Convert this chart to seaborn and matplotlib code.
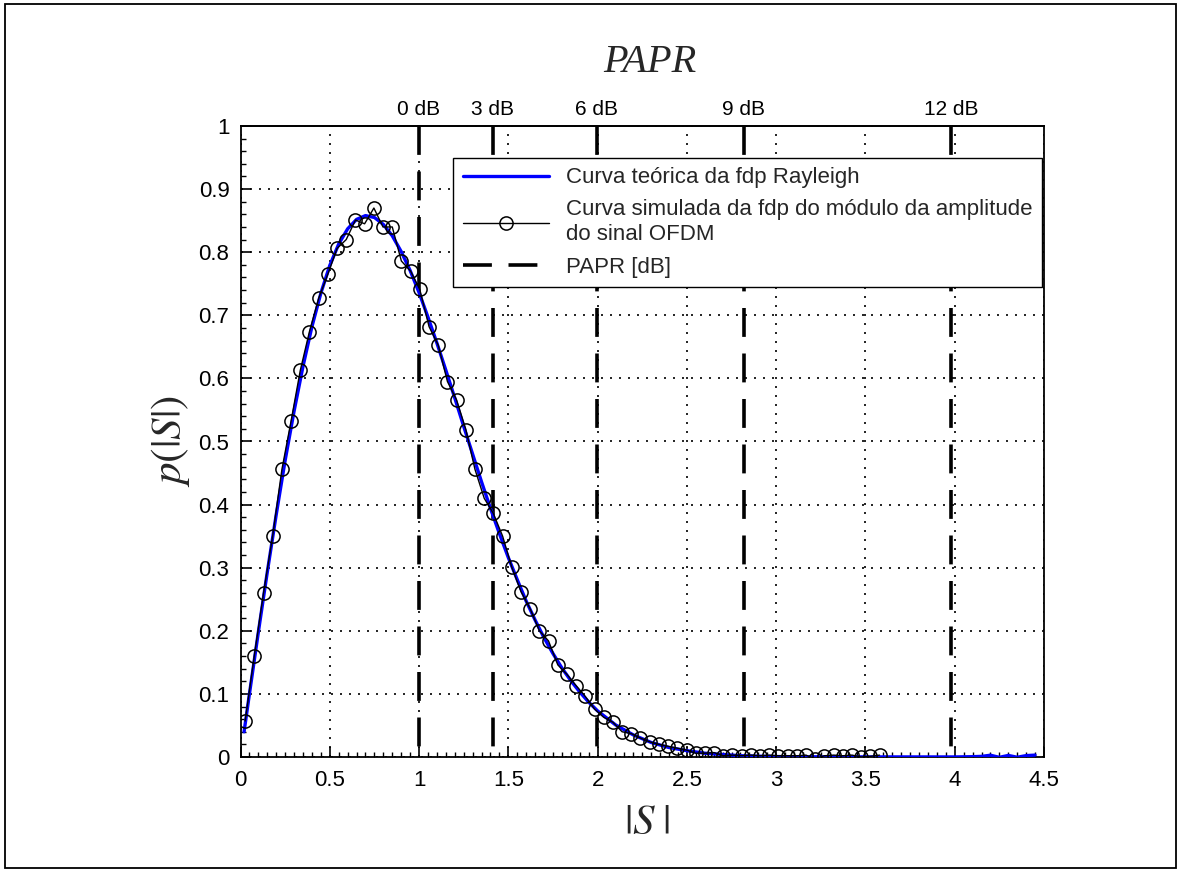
import numpy as np
import pandas as pd
import matplotlib
matplotlib.use("Agg")
import matplotlib.pyplot as plt
from matplotlib.patches import Rectangle
from matplotlib.ticker import MultipleLocator
import seaborn as sns

# ---------------- data ----------------
# theoretical Rayleigh pdf (blue curve)
theo_x = [0.02, 0.05, 0.10, 0.15, 0.20, 0.25, 0.30, 0.35, 0.40, 0.45, 0.50,
          0.55, 0.60, 0.65, 0.70, 0.75, 0.80, 0.85, 0.90, 0.95, 1.00,
          1.05, 1.10, 1.15, 1.20, 1.25, 1.30, 1.35, 1.40, 1.45, 1.50,
          1.55, 1.60, 1.65, 1.70, 1.75, 1.80, 1.85, 1.90, 1.95, 2.00,
          2.10, 2.20, 2.30, 2.40, 2.50, 2.60, 2.70, 2.80, 2.90, 3.00,
          3.20, 3.50, 3.80, 4.00, 4.10, 4.15, 4.20, 4.25, 4.30, 4.35, 4.40, 4.45]
theo_y = [0.040, 0.100, 0.198, 0.293, 0.384, 0.470, 0.548, 0.619, 0.682, 0.735, 0.779,
          0.813, 0.837, 0.852, 0.858, 0.855, 0.844, 0.826, 0.801, 0.771, 0.736,
          0.697, 0.656, 0.613, 0.569, 0.524, 0.480, 0.436, 0.394, 0.354, 0.316,
          0.281, 0.247, 0.217, 0.189, 0.164, 0.141, 0.121, 0.103, 0.087, 0.073,
          0.051, 0.035, 0.023, 0.015, 0.010, 0.006, 0.004, 0.002, 0.0013, 0.0007,
          0.0003, 0.0002, 0.0001, 0.0001, 0.0005, 0.0010, 0.0028, -0.0005, 0.0025, -0.0004, 0.0022, 0.0030]

# simulated pdf of |S| (histogram, circles)
sim_x = [0.026, 0.077, 0.129, 0.180, 0.232, 0.283, 0.335, 0.386, 0.438, 0.489,
         0.541, 0.592, 0.644, 0.695, 0.747, 0.798, 0.850, 0.901, 0.953, 1.004,
         1.056, 1.107, 1.159, 1.210, 1.262, 1.313, 1.365, 1.416, 1.468, 1.519,
         1.571, 1.622, 1.674, 1.725, 1.777, 1.828, 1.880, 1.931, 1.983, 2.034,
         2.086, 2.137, 2.189, 2.240, 2.292, 2.343, 2.395, 2.446, 2.498, 2.549,
         2.601, 2.652, 2.704, 2.755, 2.807, 2.858, 2.910, 2.961, 3.013, 3.064,
         3.116, 3.167, 3.219, 3.270, 3.322, 3.373, 3.425, 3.476, 3.528, 3.579]
sim_y = [0.057, 0.160, 0.260, 0.350, 0.456, 0.532, 0.613, 0.674, 0.727, 0.765,
         0.806, 0.820, 0.851, 0.845, 0.870, 0.840, 0.840, 0.786, 0.770, 0.741,
         0.682, 0.653, 0.595, 0.566, 0.519, 0.456, 0.410, 0.386, 0.350, 0.301,
         0.262, 0.235, 0.200, 0.184, 0.146, 0.131, 0.113, 0.096, 0.076, 0.063,
         0.055, 0.040, 0.037, 0.030, 0.024, 0.020, 0.017, 0.014, 0.011, 0.006,
         0.006, 0.007, 0.002, 0.003, 0.002, 0.003, 0.002, 0.003, 0.002, 0.002,
         0.002, 0.003, -0.003, 0.002, 0.003, 0.002, 0.003, 0.000, 0.001, 0.003]

# PAPR markers
papr_labels = ["0 dB", "3 dB", "6 dB", "9 dB", "12 dB"]
papr_pos = [1.000, 1.413, 1.995, 2.818, 3.981]

x_ticks = [0, 0.5, 1, 1.5, 2, 2.5, 3, 3.5, 4, 4.5]
x_tick_labels = ["0", "0.5", "1", "1.5", "2", "2.5", "3", "3.5", "4", "4.5"]
y_ticks = [0, 0.1, 0.2, 0.3, 0.4, 0.5, 0.6, 0.7, 0.8, 0.9, 1.0]
y_tick_labels = ["0", "0.1", "0.2", "0.3", "0.4", "0.5", "0.6", "0.7", "0.8", "0.9", "1"]

legend_labels = ["Curva teórica da fdp Rayleigh",
                 "Curva simulada da fdp do módulo da amplitude\ndo sinal OFDM",
                 "PAPR [dB]"]

# ---------------- style ----------------
sns.set_theme(style="white")
plt.rcParams["font.family"] = ["Liberation Sans", "DejaVu Sans"]
plt.rcParams["mathtext.fontset"] = "stix"
plt.rcParams["axes.edgecolor"] = "black"
plt.rcParams["xtick.color"] = "black"
plt.rcParams["ytick.color"] = "black"

W, H = 1180, 872
fig = plt.figure(figsize=(W / 100, H / 100), dpi=100)
fig.patch.set_facecolor("white")

ax_l, ax_r, ax_t, ax_b = 240.5, 1044.0, 126.0, 757.0
ax = fig.add_axes([ax_l / W, 1 - ax_b / H, (ax_r - ax_l) / W, (ax_b - ax_t) / H])
ax.set_facecolor("white")

theo_df = pd.DataFrame({"x": theo_x, "y": theo_y})
sim_df = pd.DataFrame({"x": sim_x, "y": sim_y})

sns.lineplot(data=theo_df, x="x", y="y", ax=ax, color=(0, 0, 1), lw=2.4,
             sort=False, zorder=3, legend=False)
sns.lineplot(data=sim_df, x="x", y="y", ax=ax, color="black", lw=1.0,
             marker="o", markersize=9.5, markerfacecolor="none",
             markeredgecolor="black", markeredgewidth=1.1,
             sort=False, zorder=4, legend=False)

dash_lines = []
for p in papr_pos:
    ln, = ax.plot([p, p], [1.0, 0.0], color="black", lw=2.6,
                  dashes=(8, 4.6), zorder=2, solid_capstyle="butt",
                  dash_capstyle="butt")
    dash_lines.append(ln)

ax.set_xlim(0, 4.5)
ax.set_ylim(0, 1)
ax.set_xticks(x_ticks)
ax.set_xticklabels(x_tick_labels)
ax.set_yticks(y_ticks)
ax.set_yticklabels(y_tick_labels)
ax.xaxis.set_minor_locator(MultipleLocator(0.05))
ax.yaxis.set_minor_locator(MultipleLocator(0.02))
ax.tick_params(axis="both", which="major", direction="in", length=7, width=1.2,
               labelsize=16, bottom=True, left=True, top=False, right=False)
ax.tick_params(axis="x", which="major", pad=9)
ax.tick_params(axis="y", which="major", pad=8)
ax.tick_params(axis="both", which="minor", direction="in", length=3.5, width=1.0,
               bottom=True, left=True, top=False, right=False)
ax.set_xlabel("")
ax.set_ylabel("")

ax.grid(True, which="major", color="black", lw=1.2, linestyle=(0, (1.2, 4.2)))
ax.set_axisbelow(True)
for s in ax.spines.values():
    s.set_visible(True)
    s.set_linewidth(1.3)
    s.set_color("black")

# top PAPR axis
sec = ax.secondary_xaxis("top")
sec.set_xticks(papr_pos)
sec.set_xticklabels(papr_labels)
sec.tick_params(length=0, pad=5, labelsize=15)
sec.spines["top"].set_linewidth(1.3)

# legend
handles = [ax.lines[0], ax.lines[1], dash_lines[0]]
leg = ax.legend(handles, legend_labels, loc="upper right",
                bbox_to_anchor=((1042 - ax_l) / (ax_r - ax_l), (ax_b - 158) / (ax_b - ax_t)),
                borderaxespad=0, fontsize=16, handlelength=3.9, handletextpad=0.75,
                borderpad=0.42, labelspacing=0.5, fancybox=False, framealpha=1,
                edgecolor="black", facecolor="white")
leg.get_frame().set_linewidth(1.0)
for t in leg.get_texts():
    t.set_linespacing(1.25)
leg.set_zorder(10)

# labels
fig.text(650 / W, 1 - 63 / H, "PAPR", ha="center", va="center", fontsize=29,
         family=["Liberation Serif", "DejaVu Serif"], style="italic")
fig.text(170 / W, 1 - 441 / H, r"$p\left(\left|S\right|\right)$", ha="center",
         va="center", rotation=90, fontsize=31)
fig.text(647 / W, 1 - 823 / H, r"$\left|S\;\right|$", ha="center", va="center",
         fontsize=31)

# figure frame
fig.add_artist(Rectangle((5 / W, 4 / H), (1176 - 5) / W, (868 - 4) / H,
                         transform=fig.transFigure, fill=False, lw=1.3,
                         edgecolor="black"))

fig.savefig("out.png", dpi=100, facecolor="white")
